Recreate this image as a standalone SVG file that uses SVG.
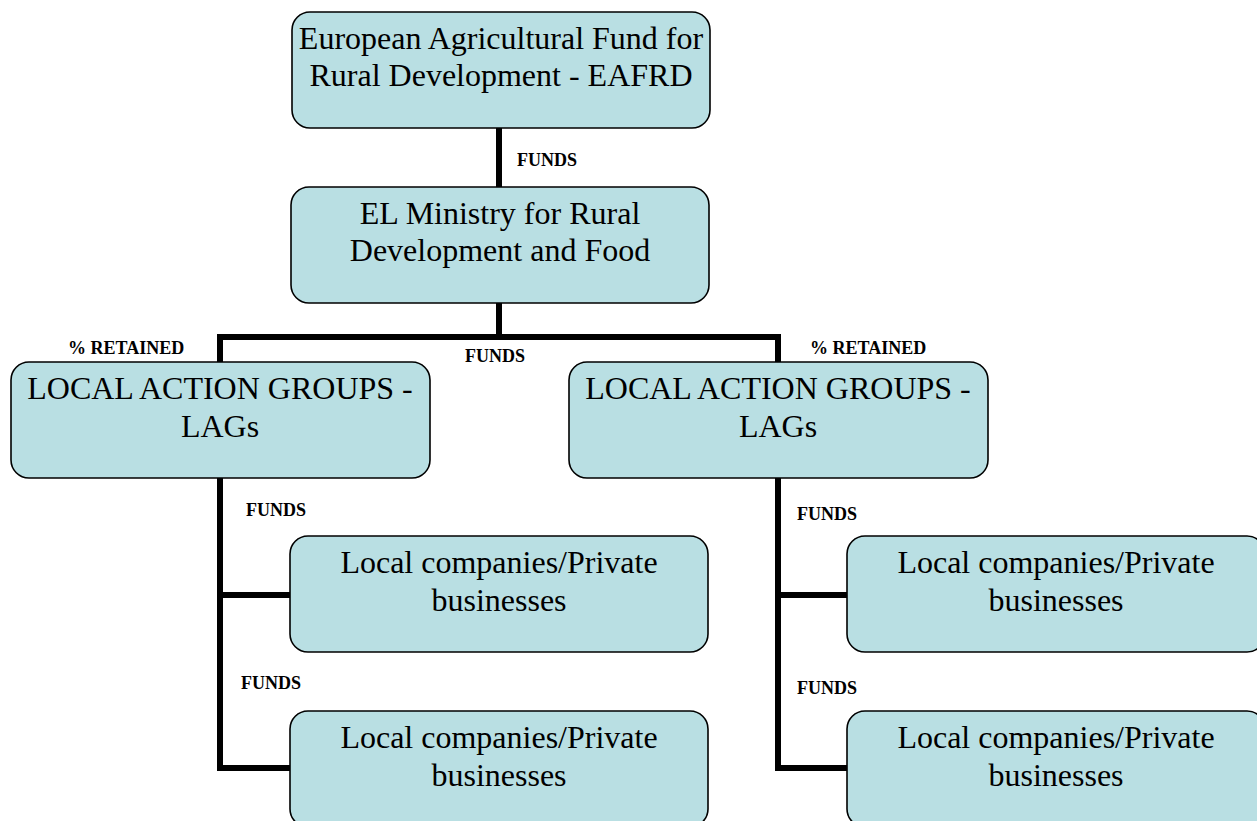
<svg xmlns="http://www.w3.org/2000/svg" width="1257" height="821" viewBox="0 0 1257 821">
  <style>
    .box { fill: #B9DFE3; stroke: #000; stroke-width: 1.6; }
    .txt { font-family: "Liberation Serif", "Times New Roman", serif; font-size: 32px; fill: #000; text-anchor: middle; }
    .lbl { font-family: "Liberation Serif", "Times New Roman", serif; font-size: 18px; font-weight: bold; fill: #000; }
    .wire { fill: none; stroke: #000; stroke-width: 6; stroke-linejoin: miter; stroke-linecap: butt; }
  </style>
  <rect width="1257" height="821" fill="#fff"/>

  <!-- connectors -->
  <g id="connectors">
    <line class="wire" x1="499" y1="128" x2="499" y2="187"/>
    <line class="wire" x1="499" y1="303" x2="499" y2="337"/>
    <polyline class="wire" points="220,362 220,337 778,337 778,362"/>
    <polyline class="wire" points="220,478 220,768 290,768"/>
    <line class="wire" x1="220" y1="595" x2="290" y2="595"/>
    <polyline class="wire" points="778,478 778,768 847,768"/>
    <line class="wire" x1="778" y1="595" x2="847" y2="595"/>
  </g>

  <!-- flow labels -->
  <g id="labels">
    <text class="lbl" x="517" y="166">FUNDS</text>
    <text class="lbl" x="465" y="362">FUNDS</text>
    <text class="lbl" x="68" y="354">% RETAINED</text>
    <text class="lbl" x="810" y="354">% RETAINED</text>
    <text class="lbl" x="246" y="516">FUNDS</text>
    <text class="lbl" x="241" y="689">FUNDS</text>
    <text class="lbl" x="797" y="520">FUNDS</text>
    <text class="lbl" x="797" y="694">FUNDS</text>
  </g>

  <g id="eafrd">
    <rect class="box" x="292" y="12" width="418" height="116" rx="18"/>
    <text class="txt" x="501" y="49">European Agricultural Fund for</text>
    <text class="txt" x="501" y="86">Rural Development - EAFRD</text>
  </g>

  <g id="ministry">
    <rect class="box" x="291" y="187" width="418" height="116" rx="18"/>
    <text class="txt" x="500" y="224">EL Ministry for Rural</text>
    <text class="txt" x="500" y="261">Development and Food</text>
  </g>

  <g id="lag-left">
    <rect class="box" x="11" y="362" width="419" height="116" rx="18"/>
    <text class="txt" x="220" y="399">LOCAL ACTION GROUPS -</text>
    <text class="txt" x="220" y="437">LAGs</text>
  </g>

  <g id="lag-right">
    <rect class="box" x="569" y="362" width="419" height="116" rx="18"/>
    <text class="txt" x="778" y="399">LOCAL ACTION GROUPS -</text>
    <text class="txt" x="778" y="437">LAGs</text>
  </g>

  <g id="business-left-1">
    <rect class="box" x="290" y="536" width="418" height="116" rx="18"/>
    <text class="txt" x="499" y="573">Local companies/Private</text>
    <text class="txt" x="499" y="611">businesses</text>
  </g>

  <g id="business-left-2">
    <rect class="box" x="290" y="711" width="418" height="116" rx="18"/>
    <text class="txt" x="499" y="748">Local companies/Private</text>
    <text class="txt" x="499" y="786">businesses</text>
  </g>

  <g id="business-right-1">
    <rect class="box" x="847" y="536" width="418" height="116" rx="18"/>
    <text class="txt" x="1056" y="573">Local companies/Private</text>
    <text class="txt" x="1056" y="611">businesses</text>
  </g>

  <g id="business-right-2">
    <rect class="box" x="847" y="711" width="418" height="116" rx="18"/>
    <text class="txt" x="1056" y="748">Local companies/Private</text>
    <text class="txt" x="1056" y="786">businesses</text>
  </g>
</svg>
